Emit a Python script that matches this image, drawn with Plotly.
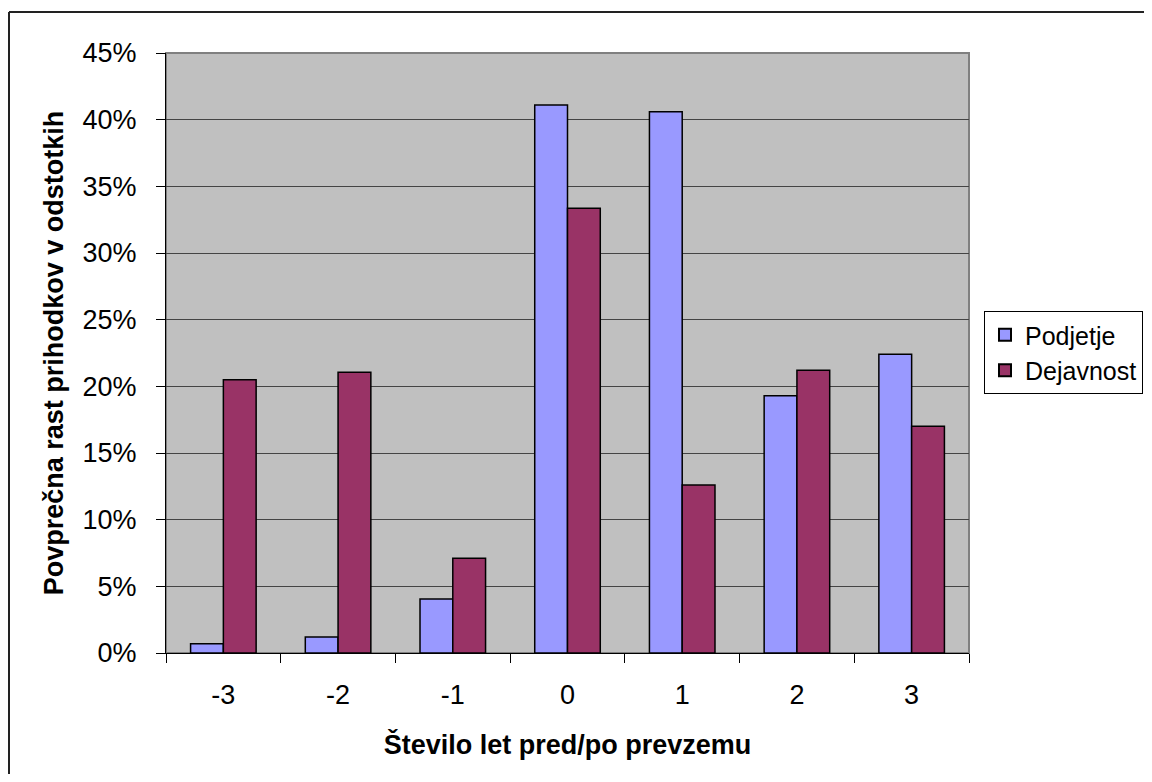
import plotly.graph_objects as go

categories = ["-3", "-2", "-1", "0", "1", "2", "3"]
podjetje = [0.7, 1.2, 4.05, 41.1, 40.6, 19.3, 22.4]
dejavnost = [20.5, 21.05, 7.1, 33.35, 12.6, 21.2, 17.0]
y_ticks = [0, 5, 10, 15, 20, 25, 30, 35, 40, 45]
y_tick_labels = [f"{v}%" for v in y_ticks]

OFF = 8  # page body margin
W, H = 1152 - 2 * OFF, 782 - 2 * OFF
L, T = 166 - OFF, 53 - OFF
pw, ph = 803, 600
R = W - L - pw
B = H - T - ph

def px(x):
    return (x - OFF - L) / pw

def py(y):
    return (H - B - (y - OFF)) / ph

FS = 27

fig = go.Figure()
fig.add_trace(go.Bar(x=categories, y=podjetje, name="Podjetje",
                     marker=dict(color="#9999FF", line=dict(color="black", width=1.5))))
fig.add_trace(go.Bar(x=categories, y=dejavnost, name="Dejavnost",
                     marker=dict(color="#993366", line=dict(color="black", width=1.5))))

font = "Arial, Liberation Sans, sans-serif"
fig.update_layout(
    width=W, height=H,
    margin=dict(l=L, r=R, t=T, b=B, pad=0, autoexpand=False),
    paper_bgcolor="white", plot_bgcolor="#C0C0C0",
    barmode="group", bargap=0.4286, bargroupgap=0,
    font=dict(family=font, size=FS, color="black"),
    showlegend=True,
    legend=dict(x=px(984), y=py(311), xanchor="left", yanchor="top",
                bordercolor="black", borderwidth=1, bgcolor="white",
                font=dict(size=25), itemsizing="constant", tracegroupgap=0),
    xaxis=dict(type="category", tickson="boundaries", ticks="outside", ticklen=9,
               tickcolor="black", showline=True, linecolor="black", linewidth=1,
               showgrid=False, tickfont=dict(size=FS), ticklabelstandoff=18,
               title=dict(text="<b>Število let pred/po prevzemu</b>", font=dict(size=FS), standoff=25)),
    yaxis=dict(range=[0, 45], tickvals=y_ticks, ticktext=y_tick_labels, ticks="outside",
               ticklen=9, tickcolor="black", showline=True, linecolor="black", linewidth=1,
               showgrid=True, gridcolor="#444444", gridwidth=1, zeroline=False,
               tickfont=dict(size=FS), ticklabelstandoff=14,
               title=dict(text="<b>Povprečna rast prihodkov v odstotkih</b>", font=dict(size=FS), standoff=11)),
    shapes=[
        dict(type="rect", xref="paper", yref="paper", x0=0, y0=0, x1=1, y1=1,
             line=dict(color="#808080", width=2), layer="below"),
        dict(type="line", xref="paper", yref="paper", x0=px(9), x1=px(1200), y0=py(12), y1=py(12),
             line=dict(color="#222222", width=2)),
        dict(type="line", xref="paper", yref="paper", x0=px(9), x1=px(9), y0=py(12), y1=py(800),
             line=dict(color="#222222", width=2)),
    ],
)

fig.write_html("out.html")
